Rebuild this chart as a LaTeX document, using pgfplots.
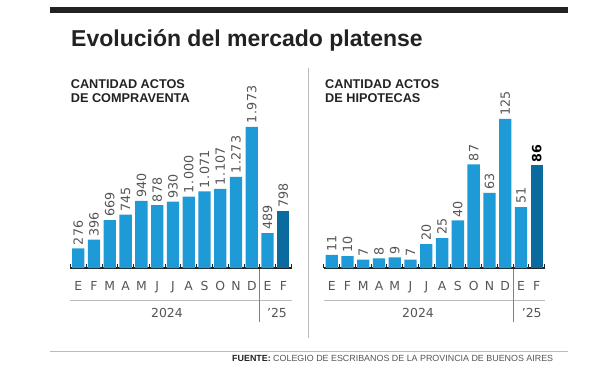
\documentclass[border=0pt]{standalone}
\usepackage{pgfplots}
\pgfplotsset{compat=1.18}
\usepackage{fontspec}
\setmainfont{Liberation Sans}
\newfontfamily\numfont{DejaVu Sans}
\definecolor{barblue}{HTML}{1E9AD6}
\definecolor{bardark}{HTML}{0B6A9E}
\definecolor{labgray}{HTML}{555555}
\definecolor{txtdark}{HTML}{222222}
\definecolor{linegray}{HTML}{BBBBBB}
\newcommand{\dt}{\kern0.8bp.\kern0.8bp}
\begin{document}
\begin{tikzpicture}[x=1bp,y=1bp]
\useasboundingbox (0,0) rectangle (600,365);
% top rule and title
\fill[txtdark] (50,352) rectangle (568,357.5);
\node[anchor=base west, inner sep=0pt, text=txtdark, font=\fontsize{23bp}{26bp}\selectfont\bfseries] at (71,318.3) {Evolución del mercado platense};
% subtitles
\node[anchor=base west, inner sep=0pt, text=txtdark, font=\fontsize{12.7bp}{14bp}\selectfont\bfseries] at (70.7,276.7) {CANTIDAD ACTOS};
\node[anchor=base west, inner sep=0pt, text=txtdark, font=\fontsize{12.7bp}{14bp}\selectfont\bfseries] at (70.7,262.3) {DE COMPRAVENTA};
\node[anchor=base west, inner sep=0pt, text=txtdark, font=\fontsize{12.7bp}{14bp}\selectfont\bfseries] at (325,276.7) {CANTIDAD ACTOS};
\node[anchor=base west, inner sep=0pt, text=txtdark, font=\fontsize{12.7bp}{14bp}\selectfont\bfseries] at (325,262.3) {DE HIPOTECAS};
% panel separator
\draw[linegray, line width=1.3bp] (308.8,297) -- (308.8,27);
% footer
\draw[linegray, line width=1bp] (50,14) -- (568,14);
\node[anchor=base west, inner sep=0pt, font=\fontsize{8.9bp}{10bp}\selectfont] at (232,3.6) {\textcolor{txtdark}{\bfseries FUENTE:} \textcolor{labgray}{COLEGIO DE ESCRIBANOS DE LA PROVINCIA DE BUENOS AIRES}};
% lower decorations
\draw[linegray, line width=1bp] (70.4,65) -- (292,65);
\draw[linegray, line width=1bp] (323.8,65) -- (545,65);
\draw[gray, line width=0.9bp] (259.7,97) -- (259.7,43);
\draw[gray, line width=0.9bp] (513.1,97) -- (513.1,43);
\node[font=\numfont\fontsize{12.4bp}{14bp}\selectfont, text=labgray] at (167,52) {2024};
\node[font=\numfont\fontsize{12.4bp}{14bp}\selectfont, text=labgray] at (277,52) {’25};
\node[font=\numfont\fontsize{12.4bp}{14bp}\selectfont, text=labgray] at (418,52) {2024};
\node[font=\numfont\fontsize{12.4bp}{14bp}\selectfont, text=labgray] at (531.7,52) {’25};

\pgfplotsset{
  panel/.style={
    scale only axis, anchor=south west, clip=false,
    width=221.6bp, xmin=-0.5, xmax=13.55, ymin=0,
    axis x line*=bottom, axis y line=none,
    x axis line style={-, draw=txtdark, line width=1.2bp},
    xtick={0,...,13},
    xticklabels={E,F,M,A,M,J,J,A,S,O,N,D,E,F},
    major tick length=0pt,
    minor xtick={-0.5,0.5,...,13.5},
    minor tick length=4.5bp,
    xtick align=inside,
    minor tick style={draw=txtdark, line width=0.8bp},
    xticklabel style={anchor=base, yshift=-22bp, inner sep=0pt, text=labgray, font=\numfont\fontsize{12.4bp}{14bp}\selectfont},
    ytick=\empty,
  },
  vals/.style={
    ybar, bar width=12.3bp, draw=none, nodes near coords, point meta=explicit symbolic,
    every node near coord/.append style={rotate=90, anchor=west, inner xsep=3bp, inner ysep=0pt, text=labgray, font=\numfont\fontsize{12.7bp}{14bp}\selectfont},
  },
}

\begin{axis}[panel, at={(70.4bp,97bp)}, height=143bp, ymax=2000]
\addplot[vals, fill=barblue] table[x=x, y=y, meta=l] {
x y l
0 276 276
1 396 396
2 669 669
3 745 745
4 940 940
5 878 878
6 930 930
7 1000 1\dt000
8 1071 1\dt071
9 1107 1\dt107
10 1273 1\dt273
11 1973 1\dt973
12 489 489
};
\addplot[vals, fill=bardark] table[x=x, y=y, meta=l] {
x y l
13 798 798
};
\end{axis}

\begin{axis}[panel, at={(323.8bp,97bp)}, height=155bp, ymax=130]
\addplot[vals, fill=barblue] table[x=x, y=y, meta=l] {
x y l
0 11 11
1 10 10
2 7 7
3 8 8
4 9 9
5 7 7
6 20 20
7 25 25
8 40 40
9 87 87
10 63 63
11 125 125
12 51 51
};
\addplot[vals, fill=bardark, every node near coord/.append style={text=black, font=\numfont\fontsize{12.7bp}{14bp}\selectfont\bfseries}] table[x=x, y=y, meta=l] {
x y l
13 86 86
};
\end{axis}
\end{tikzpicture}
\end{document}
